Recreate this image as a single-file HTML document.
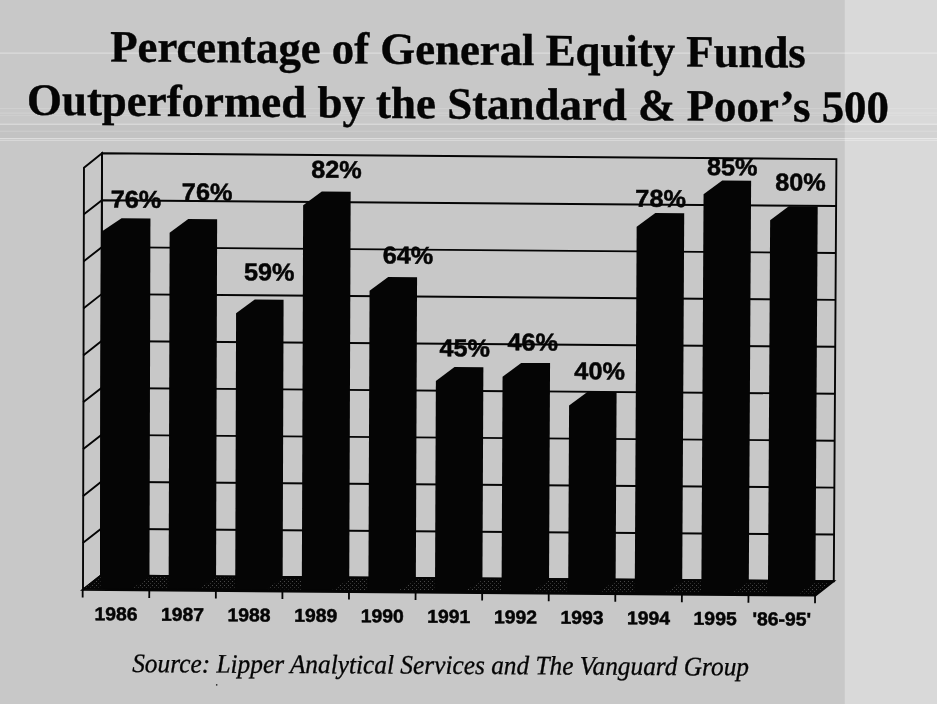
<!DOCTYPE html>
<html lang="en"><head><meta charset="utf-8"><title>Percentage of General Equity Funds Outperformed by the Standard &amp; Poor’s 500</title>
<style>
html,body{margin:0;padding:0;background:#c8c8c8;}
body{width:937px;height:704px;overflow:hidden;position:relative;}
svg{position:absolute;left:0;top:0;display:block;}
.t{font-family:"Liberation Serif","Times New Roman",serif;font-weight:bold;font-size:44.9px;fill:#050505;stroke:#050505;stroke-width:0.4px;}
.v{font-family:"Liberation Sans",Arial,sans-serif;font-weight:bold;font-size:24.4px;fill:#050505;text-anchor:middle;stroke:#050505;stroke-width:0.5px;}
.x{font-family:"Liberation Sans",Arial,sans-serif;font-weight:bold;font-size:18.6px;fill:#050505;text-anchor:middle;stroke:#050505;stroke-width:0.5px;}
.s{font-family:"Liberation Serif","Times New Roman",serif;font-style:italic;font-size:25.35px;fill:#050505;stroke:#050505;stroke-width:0.3px;}
</style></head><body>
<svg width="937" height="704" viewBox="0 0 937 704">
<defs><pattern id="st" width="4" height="4" patternUnits="userSpaceOnUse"><rect width="4" height="4" fill="#060606"/><rect x="0" y="1" width="1" height="1" fill="#484848"/><rect x="2" y="3" width="1" height="1" fill="#303030"/></pattern></defs>
<rect x="0" y="0" width="937" height="704" fill="#c8c8c8"/>
<rect x="844.8" y="0" width="92.2" height="704" fill="#d9d9d9"/>
<rect x="0" y="124.7" width="937" height="13.6" fill="#000" opacity="0.025"/>
<rect x="0" y="52.6" width="937" height="1" fill="#fff" opacity="0.45"/>
<rect x="0" y="108.0" width="937" height="1" fill="#fff" opacity="0.15"/>
<rect x="0" y="112.6" width="937" height="1" fill="#fff" opacity="0.20"/>
<rect x="0" y="115.0" width="937" height="1" fill="#fff" opacity="0.12"/>
<rect x="0" y="123.7" width="937" height="1" fill="#fff" opacity="0.45"/>
<rect x="0" y="130.7" width="937" height="1" fill="#fff" opacity="0.20"/>
<rect x="0" y="138.1" width="937" height="1" fill="#fff" opacity="0.45"/>
<rect x="0" y="140.0" width="937" height="1" fill="#fff" opacity="0.30"/>
<g>
<text class="t" transform="matrix(1 0.0088 0 1 110.20 61.40) scale(0.9975 1)">Percentage of General Equity Funds</text>
<text class="t" transform="matrix(1 0.0088 0 1 27.00 114.80)">Outperformed by the Standard &amp; Poor’s 500</text>
</g>
<g fill="none" stroke="#050505" stroke-width="1.90" stroke-linejoin="miter">
<polygon points="102.00,153.30 836.40,159.10 833.77,581.30 100.98,575.50"/>
<polyline points="83.56,214.59 101.89,200.23 836.11,206.03"/>
<polyline points="83.45,261.52 101.77,247.16 835.82,252.96"/>
<polyline points="83.34,308.45 101.66,294.09 835.52,299.89"/>
<polyline points="83.23,355.38 101.55,341.02 835.23,346.82"/>
<polyline points="83.12,402.31 101.43,387.95 834.94,393.75"/>
<polyline points="83.01,449.24 101.32,434.88 834.65,440.68"/>
<polyline points="82.91,496.17 101.21,481.81 834.35,487.61"/>
<polyline points="82.80,543.10 101.10,528.74 834.06,534.54"/>
<polygon points="102.00,153.30 83.97,167.66 82.99,589.86 100.98,575.50"/>
</g>
<polygon fill="#050505" stroke="#050505" stroke-width="1.90" points="100.98,575.50 833.77,581.30 815.42,595.66 82.69,589.86"/>
<g stroke="#050505" stroke-width="1.8">
<line x1="82.69" y1="589.46" x2="82.67" y2="597.46"/>
<line x1="149.27" y1="589.98" x2="149.25" y2="597.98"/>
<line x1="215.85" y1="590.51" x2="215.82" y2="598.51"/>
<line x1="282.43" y1="591.04" x2="282.40" y2="599.04"/>
<line x1="349.00" y1="591.56" x2="348.97" y2="599.56"/>
<line x1="415.58" y1="592.09" x2="415.55" y2="600.09"/>
<line x1="482.16" y1="592.62" x2="482.13" y2="600.62"/>
<line x1="548.74" y1="593.15" x2="548.70" y2="601.15"/>
<line x1="615.32" y1="593.67" x2="615.28" y2="601.67"/>
<line x1="681.90" y1="594.20" x2="681.85" y2="602.20"/>
<line x1="748.48" y1="594.73" x2="748.43" y2="602.73"/>
<line x1="815.05" y1="595.25" x2="815.01" y2="603.25"/>
</g>
<g fill="#050505">
<polygon points="100.15,587.99 101.01,232.03 121.54,218.19 150.43,218.42 149.44,588.38"/>
<polygon points="168.64,588.54 169.62,232.84 188.25,218.98 217.14,219.21 216.03,588.91"/>
<polygon points="235.23,589.06 236.09,313.30 254.72,299.45 283.59,299.68 282.62,589.44"/>
<polygon points="301.82,589.59 303.15,205.31 321.79,191.46 350.69,191.69 349.21,589.97"/>
<polygon points="368.41,590.12 369.55,290.77 388.19,276.91 417.07,277.14 415.80,590.49"/>
<polygon points="435.00,590.64 435.87,380.93 454.50,367.08 483.37,367.31 482.39,591.02"/>
<polygon points="501.58,591.17 502.55,376.74 521.19,362.89 550.06,363.12 548.98,591.55"/>
<polygon points="568.17,591.70 569.08,405.58 587.72,391.73 616.59,391.95 615.57,592.07"/>
<polygon points="634.76,592.23 636.66,226.82 655.33,212.97 684.22,213.20 682.16,592.60"/>
<polygon points="701.35,592.75 703.56,194.32 722.23,180.47 751.13,180.70 748.74,593.13"/>
<polygon points="767.94,593.28 770.14,220.18 788.82,206.33 817.71,206.56 815.33,593.66"/>
</g>
<g fill="url(#st)">
<polygon points="85.19,587.68 100.48,576.70 100.45,587.80"/>
<polygon points="149.97,577.09 168.17,577.23 168.14,588.33 132.48,588.05"/>
<polygon points="216.56,577.62 234.76,577.76 234.73,588.86 199.07,588.58"/>
<polygon points="283.16,578.14 301.36,578.29 301.32,589.39 265.66,589.10"/>
<polygon points="349.75,578.67 367.95,578.81 367.91,589.91 332.25,589.63"/>
<polygon points="416.34,579.20 434.54,579.34 434.50,590.44 398.84,590.16"/>
<polygon points="482.94,579.72 501.14,579.87 501.09,590.97 465.43,590.69"/>
<polygon points="549.53,580.25 567.73,580.40 567.68,591.50 532.02,591.21"/>
<polygon points="616.12,580.78 634.32,580.92 634.26,592.02 598.61,591.74"/>
<polygon points="682.72,581.31 700.92,581.45 700.85,592.55 665.19,592.27"/>
<polygon points="749.31,581.83 767.51,581.98 767.44,593.08 731.78,592.79"/>
<polygon points="815.90,582.36 831.27,582.48 814.44,593.45 798.37,593.32"/>
</g>
<g>
<text class="v" transform="matrix(1 0.0079 0 1 135.90 207.80) scale(1.035 1)">76%</text>
<text class="v" transform="matrix(1 0.0079 0 1 207.10 200.40) scale(1.035 1)">76%</text>
<text class="v" transform="matrix(1 0.0079 0 1 269.30 280.40) scale(1.035 1)">59%</text>
<text class="v" transform="matrix(1 0.0079 0 1 336.40 177.90) scale(1.035 1)">82%</text>
<text class="v" transform="matrix(1 0.0079 0 1 407.90 263.70) scale(1.035 1)">64%</text>
<text class="v" transform="matrix(1 0.0079 0 1 464.80 356.40) scale(1.035 1)">45%</text>
<text class="v" transform="matrix(1 0.0079 0 1 532.70 350.50) scale(1.035 1)">46%</text>
<text class="v" transform="matrix(1 0.0079 0 1 599.60 379.40) scale(1.035 1)">40%</text>
<text class="v" transform="matrix(1 0.0079 0 1 660.60 206.90) scale(1.035 1)">78%</text>
<text class="v" transform="matrix(1 0.0079 0 1 732.30 175.30) scale(1.035 1)">85%</text>
<text class="v" transform="matrix(1 0.0079 0 1 800.40 190.60) scale(1.035 1)">80%</text>
</g>
<g>
<text class="x" transform="matrix(1 0.0079 0 1 115.90 620.30) scale(1.04 1)">1986</text>
<text class="x" transform="matrix(1 0.0079 0 1 182.48 620.81) scale(1.04 1)">1987</text>
<text class="x" transform="matrix(1 0.0079 0 1 249.06 621.32) scale(1.04 1)">1988</text>
<text class="x" transform="matrix(1 0.0079 0 1 315.64 621.84) scale(1.04 1)">1989</text>
<text class="x" transform="matrix(1 0.0079 0 1 382.22 622.35) scale(1.04 1)">1990</text>
<text class="x" transform="matrix(1 0.0079 0 1 448.80 622.86) scale(1.04 1)">1991</text>
<text class="x" transform="matrix(1 0.0079 0 1 515.38 623.38) scale(1.04 1)">1992</text>
<text class="x" transform="matrix(1 0.0079 0 1 581.96 623.89) scale(1.04 1)">1993</text>
<text class="x" transform="matrix(1 0.0079 0 1 648.54 624.40) scale(1.04 1)">1994</text>
<text class="x" transform="matrix(1 0.0079 0 1 715.12 624.91) scale(1.04 1)">1995</text>
<text class="x" transform="matrix(1 0.0079 0 1 781.70 625.43) scale(1.04 1)">'86-95'</text>
</g>
<text class="s" transform="matrix(1 0.0055 0 1.05 132.2 672.1)">Source: Lipper Analytical Services and The Vanguard Group</text>
<circle cx="216.7" cy="684.9" r="0.8" fill="#222"/>
</svg>
</body></html>
